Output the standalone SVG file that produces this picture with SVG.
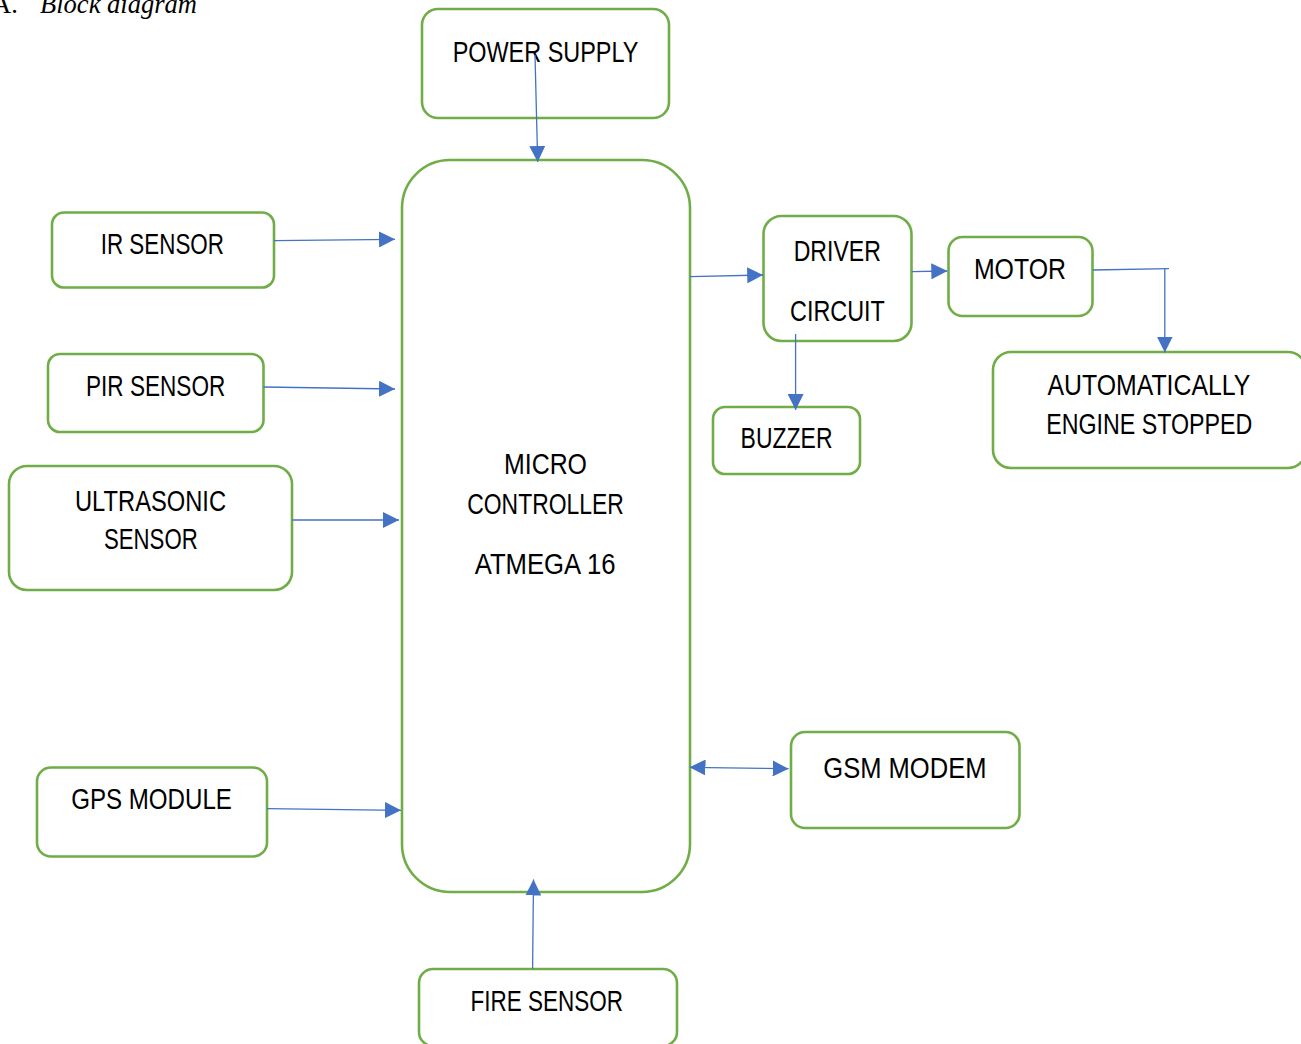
<svg xmlns="http://www.w3.org/2000/svg" width="1301" height="1044" viewBox="0 0 1301 1044">
<style>
.box{fill:#fff;stroke:#70AD47;stroke-width:2.6}
.lbl{font-family:"Liberation Sans Narrow","Liberation Sans",Arial,sans-serif;font-size:29px;fill:#000}
.cn{fill:none;stroke:#4472C4;stroke-width:1.3}
.cap{font-family:"Liberation Serif","Times New Roman",serif;font-size:26.5px;fill:#000}
</style>
<defs>
<marker id="ah" markerUnits="userSpaceOnUse" markerWidth="16" markerHeight="16" refX="16" refY="8" orient="auto-start-reverse" viewBox="0 0 16 16">
<path d="M0,0 L16,8 L0,16 z" fill="#4472C4"/>
</marker>
</defs>
<rect width="1301" height="1044" fill="#fff"/>
<text class="cap" x="-8" y="12.5">A.</text>
<text class="cap" x="40" y="12.5" font-style="italic" textLength="157" lengthAdjust="spacingAndGlyphs">Block diagram</text>

<g id="power-supply"><rect class="box" x="422" y="9" width="247" height="109" rx="16"/><text class="lbl" x="452.7" y="62" textLength="185.6" lengthAdjust="spacingAndGlyphs">POWER SUPPLY</text></g>
<g id="micro-controller"><rect class="box" x="402" y="160" width="288" height="732" rx="48"/>
<text class="lbl" x="504" y="474.3" textLength="83" lengthAdjust="spacingAndGlyphs">MICRO</text>
<text class="lbl" x="467.3" y="514" textLength="156.4" lengthAdjust="spacingAndGlyphs">CONTROLLER</text>
<text class="lbl" x="474.7" y="574" textLength="140.8" lengthAdjust="spacingAndGlyphs">ATMEGA 16</text></g>
<g id="ir-sensor"><rect class="box" x="52" y="212.5" width="222" height="75" rx="12"/><text class="lbl" x="100.7" y="254" textLength="123.3" lengthAdjust="spacingAndGlyphs">IR SENSOR</text></g>
<g id="pir-sensor"><rect class="box" x="48" y="354" width="215.5" height="78" rx="12"/><text class="lbl" x="86" y="396" textLength="139.3" lengthAdjust="spacingAndGlyphs">PIR SENSOR</text></g>
<g id="ultrasonic-sensor"><rect class="box" x="9" y="466" width="283" height="124" rx="18"/>
<text class="lbl" x="75" y="510.7" textLength="151" lengthAdjust="spacingAndGlyphs">ULTRASONIC</text>
<text class="lbl" x="104" y="549" textLength="93.7" lengthAdjust="spacingAndGlyphs">SENSOR</text></g>
<g id="gps-module"><rect class="box" x="37" y="767.5" width="230" height="89" rx="14"/><text class="lbl" x="71.2" y="809.3" textLength="160.7" lengthAdjust="spacingAndGlyphs">GPS MODULE</text></g>
<g id="fire-sensor"><rect class="box" x="419" y="969" width="258" height="77" rx="14"/><text class="lbl" x="470.6" y="1010.7" textLength="152.4" lengthAdjust="spacingAndGlyphs">FIRE SENSOR</text></g>
<g id="gsm-modem"><rect class="box" x="791" y="732" width="228.5" height="96" rx="14"/><text class="lbl" x="823.3" y="777.7" textLength="163.2" lengthAdjust="spacingAndGlyphs">GSM MODEM</text></g>
<g id="driver-circuit"><rect class="box" x="763.5" y="216" width="148" height="125" rx="18"/>
<text class="lbl" x="793.7" y="260.7" textLength="87.1" lengthAdjust="spacingAndGlyphs">DRIVER</text>
<text class="lbl" x="790" y="320.7" textLength="94.8" lengthAdjust="spacingAndGlyphs">CIRCUIT</text></g>
<g id="motor"><rect class="box" x="948.5" y="237" width="144" height="79" rx="14"/><text class="lbl" x="973.9" y="279" textLength="92.1" lengthAdjust="spacingAndGlyphs">MOTOR</text></g>
<g id="engine-stopped"><rect class="box" x="993" y="352" width="313" height="116" rx="18"/>
<text class="lbl" x="1047.5" y="395" textLength="202.8" lengthAdjust="spacingAndGlyphs">AUTOMATICALLY</text>
<text class="lbl" x="1046.3" y="434.3" textLength="206" lengthAdjust="spacingAndGlyphs">ENGINE STOPPED</text></g>
<g id="buzzer"><rect class="box" x="713" y="407" width="147" height="67" rx="12"/><text class="lbl" x="740.6" y="448.3" textLength="91.9" lengthAdjust="spacingAndGlyphs">BUZZER</text></g>

<g id="connectors">
<path class="cn" d="M535,55 L537.7,162" marker-end="url(#ah)"/>
<path class="cn" d="M274,240.7 L395,239.3" marker-end="url(#ah)"/>
<path class="cn" d="M263.5,387 L395,389" marker-end="url(#ah)"/>
<path class="cn" d="M292.3,520 L399,520" marker-end="url(#ah)"/>
<path class="cn" d="M267,808.7 L401,810.3" marker-end="url(#ah)"/>
<path class="cn" d="M532.6,969 L533.5,879.5" marker-end="url(#ah)"/>
<path class="cn" d="M689.5,767.3 L788.6,768.7" marker-start="url(#ah)" marker-end="url(#ah)"/>
<path class="cn" d="M690,276.7 L763.2,275" marker-end="url(#ah)"/>
<path class="cn" d="M911.7,271.7 L947.3,271" marker-end="url(#ah)"/>
<path class="cn" d="M1092.7,270 L1169,268.7"/>
<path class="cn" d="M1164.8,268.7 L1164.8,352.5" marker-end="url(#ah)"/>
<path class="cn" d="M795.6,334 L795.6,410" marker-end="url(#ah)"/>
</g>
</svg>
